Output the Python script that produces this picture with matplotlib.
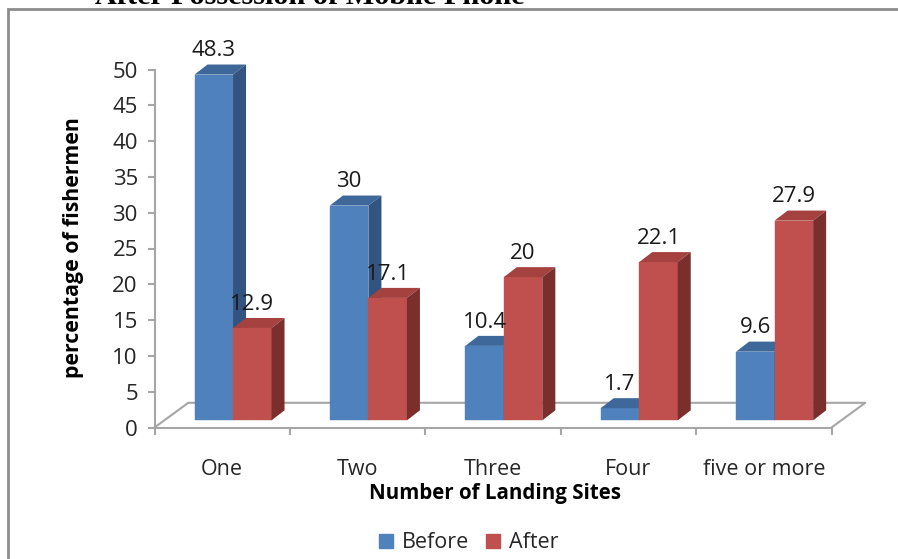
import matplotlib
matplotlib.use('Agg')
import numpy as np
import matplotlib.pyplot as plt
from matplotlib.patches import Polygon, Rectangle, Patch

# values
categories = ['One', 'Two', 'Three', 'Four', 'five or more']
before = [48.3, 30, 10.4, 1.7, 9.6]
after = [12.9, 17.1, 20, 22.1, 27.9]
yticks = list(range(0, 55, 5))

W, H = 898, 559
GREY = '#a6a6a6'
FONT = ['Open Sans', 'DejaVu Sans']

fig = plt.figure(figsize=(W / 100, H / 100), dpi=100)
fig.patch.set_facecolor('white')

# page frame and clipped heading above the chart
fig.add_artist(Rectangle((8 / W, -0.1), 900 / W, 1.1 - 9.5 / H, transform=fig.transFigure,
                         fill=False, ec='#8c8c8c', lw=2))
fig.text(95 / W, 1 - 3.5 / H, 'After Possession of Mobile Phone', family='Liberation Serif',
         weight='bold', fontsize=21.8, va='baseline', ha='left', color='black')

ax = fig.add_axes([154.5 / W, 1 - 427.5 / H, 677 / W, 358 / H])
ax.set_xlim(0, 5)
ax.set_ylim(0, 50)
ax.patch.set_alpha(0)
for s in ['top', 'right']:
    ax.spines[s].set_visible(False)
for s in ['left', 'bottom']:
    ax.spines[s].set_color(GREY)
    ax.spines[s].set_linewidth(1.5)

# depth of the fake 3d, in data units
dx = 13 / 135.4
dy = 10 / 7.16
base = 1.0
bw = 38.5 / 135.4
centre = np.arange(5) + 0.58


def bar3d(x, v, front, top, side):
    ax.bar(x, v, bw, bottom=base, color=front, edgecolor=front, linewidth=0.3, zorder=3)
    l, r, t = x - bw / 2, x + bw / 2, base + v
    ax.add_patch(Polygon([(l, t), (l + dx, t + dy), (r + dx, t + dy), (r, t)], fc=top, ec='none', zorder=3, clip_on=False))
    ax.add_patch(Polygon([(r, base), (r + dx, base + dy), (r + dx, t + dy), (r, t)], fc=side, ec='none', zorder=3, clip_on=False))


# floor of the 3d box
ax.plot([0, dx * 2.6, 5 + dx * 2.6, 5], [0, 3.45, 3.45, 0], color=GREY, lw=1.5, clip_on=False, zorder=1)

for i in range(5):
    bar3d(centre[i] - bw / 2, before[i], '#4f81bd', '#3d6899', '#335480')
    bar3d(centre[i] + bw / 2, after[i], '#c0504d', '#a5423f', '#7a2f2d')
    ax.text(centre[i] - bw / 2, base + before[i] + dy + 0.45, str(before[i]), ha='center', va='bottom',
            family=FONT, fontsize=16, color='#1a1a1a', zorder=5)
    ax.text(centre[i] + bw / 2, base + after[i] + dy + 0.45, str(after[i]), ha='center', va='bottom',
            family=FONT, fontsize=16, color='#1a1a1a', zorder=5)

ax.set_yticks(yticks)
ax.set_xticks(range(6))
ax.set_xticklabels([])
ax.tick_params(axis='both', color=GREY, width=1.5, length=5, pad=7)
for lab in ax.get_yticklabels():
    lab.set_family(FONT)
    lab.set_fontsize(16)
    lab.set_color('#262626')

for i, c in enumerate(categories):
    ax.text(i + 0.5, -5.9, c, ha='center', va='center', family=FONT, fontsize=15.5, color='#262626')

ax.set_xlabel('Number of Landing Sites', family=FONT, fontsize=14.8, weight='bold', color='black', va='center')
ax.xaxis.set_label_coords((495 - 154.5) / 677, -(493 - 427.5) / 358)
ax.set_ylabel('percentage of fishermen', family=FONT, fontsize=15.3, weight='bold', color='black', va='center')
ax.yaxis.set_label_coords((74 - 154.5) / 677, (427.5 - 248) / 358)

fig.legend(handles=[Patch(color='#4f81bd', label='Before'), Patch(color='#c0504d', label='After')],
           loc='center', bbox_to_anchor=(469 / W, 1 - 543 / H), ncol=2, frameon=False,
           prop={'family': FONT, 'size': 15.5}, handlelength=0.65, handleheight=0.65,
           handletextpad=0.4, columnspacing=0.8, labelcolor='#262626')

fig.savefig('out.png', dpi=100)
